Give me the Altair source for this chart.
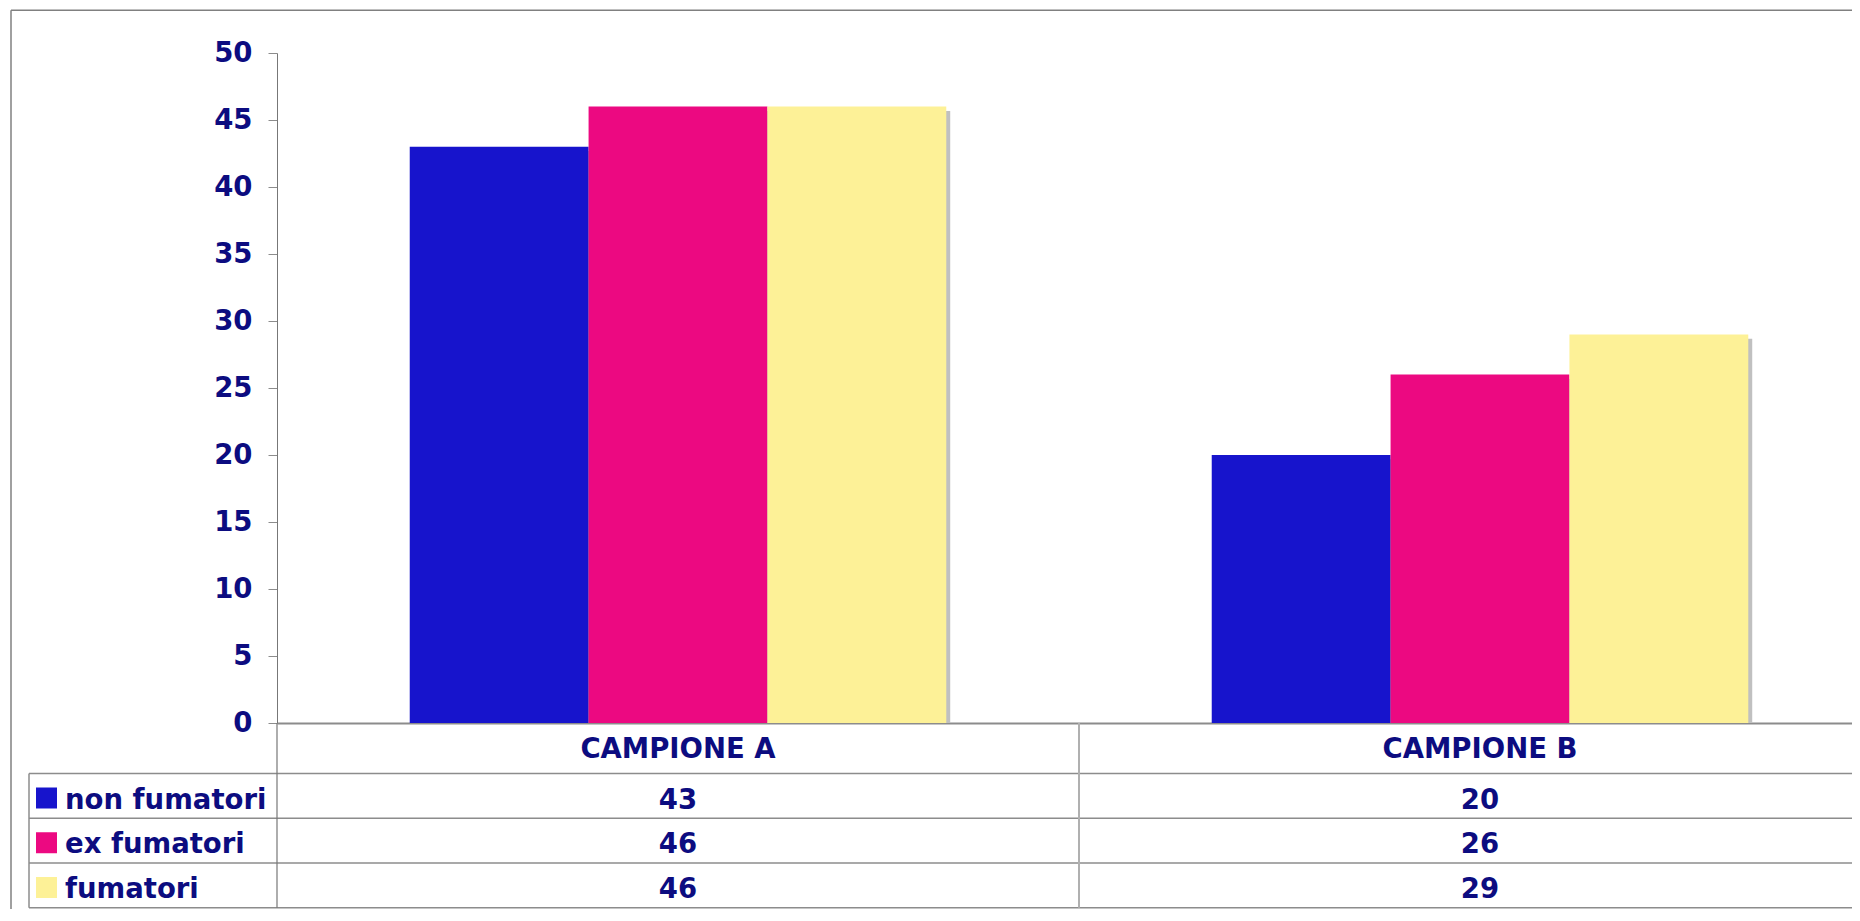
import altair as alt
import pandas as pd

# ---- data ----
categories = ["CAMPIONE A", "CAMPIONE B"]
series = ["non fumatori", "ex fumatori", "fumatori"]
non_fumatori = [43, 20]
ex_fumatori = [46, 26]
fumatori = [46, 29]
colors = ["#1714CC", "#EC0981", "#FDF197"]
y_ticks = [0, 5, 10, 15, 20, 25, 30, 35, 40, 45, 50]

rows = []
for s, vals in zip(series, [non_fumatori, ex_fumatori, fumatori]):
    for c, v in zip(categories, vals):
        rows.append({"campione": c, "gruppo": s, "valore": v})
df = pd.DataFrame(rows)
legend_df = pd.DataFrame({"gruppo": series})
one = pd.DataFrame({"k": [0]})

# ---- style ----
W = 1575      # visible plot width
XR = 1604     # full x range (plot runs past the right edge)
H = 670
NAVY = "#0C0C80"
FONT = "DejaVu Sans"
FS = 27.5
LINE = "#8c8c8c"

x_scale = alt.Scale(domain=categories, range=[0, XR], paddingInner=0.331, paddingOuter=0.1655)
y_scale = alt.Scale(domain=[0, 50], nice=False, zero=True)
color_scale = alt.Scale(domain=series, range=colors)

x_axis = alt.Axis(title=None, ticks=False, labelAngle=0, labelPadding=34,
                  labelBaseline="alphabetic", domainColor=LINE, domainWidth=2,
                  labelFont=FONT, labelFontSize=FS, labelFontWeight="bold",
                  labelColor=NAVY, labelLimit=0)
y_axis = alt.Axis(title=None, values=y_ticks, tickSize=9, labelPadding=16,
                  domainColor="#777777", tickColor="#8c8c8c", grid=False,
                  labelFont=FONT, labelFontSize=FS, labelFontWeight="bold",
                  labelColor=NAVY)

x_enc = alt.X("campione:N", scale=x_scale, axis=x_axis, sort=categories)

base = alt.Chart(df)
shadow = base.transform_calculate(ombra="datum.valore - 0.32").mark_bar(color="#C0C0C0").encode(
    x=x_enc,
    xOffset=alt.XOffset("gruppo:N", sort=series,
                        scale=alt.Scale(domain=series, range=[4, 540.5])),
    y=alt.Y("ombra:Q", scale=y_scale, axis=y_axis),
)
bars = base.mark_bar().encode(
    x=x_enc,
    xOffset=alt.XOffset("gruppo:N", sort=series, scale=alt.Scale(domain=series)),
    y=alt.Y("valore:Q", scale=y_scale, axis=y_axis),
    color=alt.Color("gruppo:N", scale=color_scale, legend=None),
)
bar_layer = alt.layer(shadow, bars).resolve_scale(xOffset="independent")

# ---- data table under the chart ----
text_y = alt.Scale(domain=series, range=[755.5, 845], padding=0)
values_text = base.mark_text(font=FONT, fontSize=FS, fontWeight="bold", color=NAVY,
                             baseline="alphabetic", align="center").encode(
    x=x_enc,
    y=alt.Y("gruppo:N", scale=text_y, axis=None, sort=series),
    text="valore:Q",
)
legend_text = alt.Chart(legend_df).mark_text(font=FONT, fontSize=FS, fontWeight="bold",
                                             color=NAVY, baseline="alphabetic",
                                             align="left").encode(
    x=alt.value(-212),
    y=alt.Y("gruppo:N", scale=text_y, axis=None, sort=series),
    text="gruppo:N",
)
text_layer = alt.layer(values_text, legend_text)

swatch = alt.Chart(legend_df).mark_square(size=441, opacity=1, filled=True).encode(
    x=alt.value(-230.5),
    y=alt.Y("gruppo:N", scale=alt.Scale(domain=series, range=[745, 834.5], padding=0),
            axis=None, sort=series),
    color=alt.Color("gruppo:N", scale=color_scale, legend=None),
)

rules = []
for yy in [720.6, 765.3, 810, 854.7]:
    rules.append(alt.Chart(one).mark_rule(color=LINE, strokeWidth=1.5).encode(
        x=alt.value(-248), x2=alt.value(XR + 20), y=alt.value(yy)))
rules.append(alt.Chart(one).mark_rule(color="#777777", strokeWidth=1.2).encode(
    x=alt.value(0), y=alt.value(H), y2=alt.value(854.7)))
rules.append(alt.Chart(one).mark_rule(color="#b0b0b0", strokeWidth=2).encode(
    x=alt.value(802), y=alt.value(H), y2=alt.value(854.7)))
rules.append(alt.Chart(one).mark_rule(color=LINE, strokeWidth=1.5).encode(
    x=alt.value(-248), y=alt.value(720.6), y2=alt.value(854.7)))
# outer frame (top and left edges; right and bottom lie outside the page)
rules.append(alt.Chart(one).mark_rule(color="#808080", strokeWidth=1.5).encode(
    x=alt.value(-266), x2=alt.value(XR + 100), y=alt.value(-42.7)))
rules.append(alt.Chart(one).mark_rule(color="#808080", strokeWidth=1.5).encode(
    x=alt.value(-266), y=alt.value(-42.7), y2=alt.value(H + 400)))

chart = alt.layer(bar_layer, text_layer, swatch, *rules).resolve_scale(
    y="independent"
).properties(
    width=W, height=H,
    autosize=alt.AutoSizeParams(type="none"),
    padding={"left": 269, "top": 45, "right": 0, "bottom": 186},
    background="white",
).configure_view(stroke=None)

chart.save("out.html", embed_options={"renderer": "svg", "actions": False})
